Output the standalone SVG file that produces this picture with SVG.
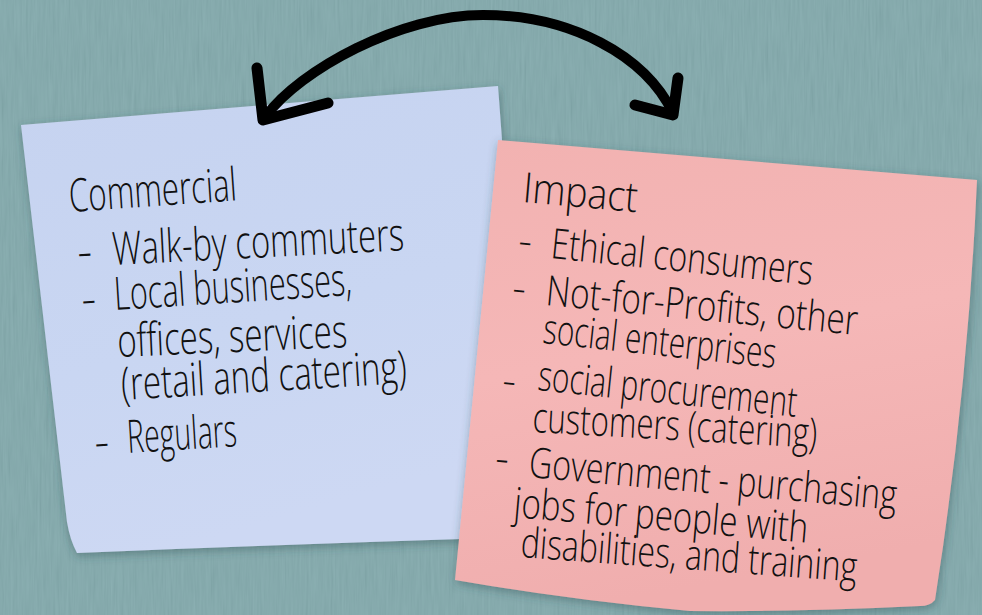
<svg xmlns="http://www.w3.org/2000/svg" width="982" height="615" viewBox="0 0 982 615">
  <defs>
    <filter id="grain" x="0" y="0" width="100%" height="100%">
      <feTurbulence type="fractalNoise" baseFrequency="0.45 0.025" numOctaves="3" seed="7"/>
      <feColorMatrix type="matrix" values="0.33 0.33 0.33 0 0  0.33 0.33 0.33 0 0  0.33 0.33 0.33 0 0  0 0 0 0 1"/>
    </filter>
    <filter id="shadow" x="-10%" y="-10%" width="120%" height="120%">
      <feDropShadow dx="1" dy="3" stdDeviation="5" flood-color="#2f4f52" flood-opacity="0.45"/>
    </filter>
    <linearGradient id="blueFill" x1="0" y1="0" x2="0.3" y2="1">
      <stop offset="0" stop-color="#c6d3f0"/>
      <stop offset="0.6" stop-color="#c9d6f2"/>
      <stop offset="1" stop-color="#cdd8f3"/>
    </linearGradient>
    <linearGradient id="pinkFill" x1="0" y1="0" x2="0.2" y2="1">
      <stop offset="0" stop-color="#f2b2b1"/>
      <stop offset="0.5" stop-color="#f5b7b7"/>
      <stop offset="1" stop-color="#f0aeae"/>
    </linearGradient>
    <style>
      .hand { font-family: "Open Sans", "Liberation Sans", sans-serif; font-weight: 300; fill: #111; }
      .blue { font-size: 46px; }
      .pink { font-size: 42px; }
      .arc { fill: none; stroke: #000; stroke-width: 10; stroke-linecap: round; }
      .head { fill: none; stroke: #000; stroke-width: 11; stroke-linecap: round; stroke-linejoin: round; }
    </style>
  </defs>

  <g id="background">
    <rect x="0" y="0" width="982" height="615" fill="#7ea8ab"/>
    <rect x="0" y="0" width="982" height="615" filter="url(#grain)" opacity="0.13"/>
  </g>

  <g id="note-commercial">
    <path d="M21,125 L498,86 L502,140 L492,538 Q300,544 77,553 Q70,540 67,522 Z" fill="url(#blueFill)" filter="url(#shadow)"/>
    <text class="hand blue" transform="rotate(-4 70 212)" x="70" y="212" textLength="168" lengthAdjust="spacingAndGlyphs">Commercial</text>
    <text class="hand blue" transform="rotate(-2.9 113 265)"><tspan x="78" y="266">-</tspan><tspan x="113" y="265" textLength="292" lengthAdjust="spacingAndGlyphs">Walk-by commuters</tspan></text>
    <text class="hand blue" transform="rotate(-3.6 115 310)"><tspan x="82" y="313">-</tspan><tspan x="115" y="310" textLength="238" lengthAdjust="spacingAndGlyphs">Local businesses,</tspan></text>
    <text class="hand blue" transform="rotate(-2.5 118 357)" x="118" y="357" textLength="230" lengthAdjust="spacingAndGlyphs">offices, services</text>
    <text class="hand blue" transform="rotate(-3.4 122 400)" x="122" y="400" textLength="286" lengthAdjust="spacingAndGlyphs">(retail and catering)</text>
    <text class="hand blue" transform="rotate(-3.5 128 453)"><tspan x="95" y="456">-</tspan><tspan x="128" y="453" textLength="110" lengthAdjust="spacingAndGlyphs">Regulars</tspan></text>
  </g>

  <g id="note-impact">
    <path d="M498,140 L977,180 Q968,390 935,600 Q930,606 920,606 Q800,612 690,611 Q570,600 455,580 Z" fill="url(#pinkFill)" filter="url(#shadow)"/>
    <text class="hand pink" transform="rotate(5 522 202)" x="522" y="202" textLength="115" lengthAdjust="spacingAndGlyphs">Impact</text>
    <text class="hand pink" transform="rotate(5.9 550 258)"><tspan x="517" y="258">-</tspan><tspan x="550" y="258" textLength="263" lengthAdjust="spacingAndGlyphs">Ethical consumers</tspan></text>
    <text class="hand pink" transform="rotate(5.5 545 305)"><tspan x="511" y="305">-</tspan><tspan x="545" y="305" textLength="313" lengthAdjust="spacingAndGlyphs">Not-for-Profits, other</tspan></text>
    <text class="hand pink" transform="rotate(6.1 542 343)" x="542" y="343" textLength="234" lengthAdjust="spacingAndGlyphs">social enterprises</text>
    <text class="hand pink" transform="rotate(5.9 537 390)"><tspan x="502" y="398">-</tspan><tspan x="537" y="390" textLength="260" lengthAdjust="spacingAndGlyphs">social procurement</tspan></text>
    <text class="hand pink" transform="rotate(3.2 532 432)" x="532" y="432" textLength="285" lengthAdjust="spacingAndGlyphs">customers (catering)</text>
    <text class="hand pink" transform="rotate(5.1 528 477)"><tspan x="494" y="475">-</tspan><tspan x="528" y="477" textLength="369" lengthAdjust="spacingAndGlyphs">Government - purchasing</tspan></text>
    <text class="hand pink" transform="rotate(5 513 517)" x="513" y="517" textLength="295" lengthAdjust="spacingAndGlyphs">jobs for people with</text>
    <text class="hand pink" transform="rotate(4.2 520 557)" x="520" y="557" textLength="337" lengthAdjust="spacingAndGlyphs">disabilities, and training</text>
  </g>

  <g id="connectors">
    <path class="arc" d="M266,116 C300,70 400,15 483,15 C570,15 645,55 673,113"/>
    <polyline class="head" points="257,68 263,120 328,103"/>
    <polyline class="head" points="678,78 673,115 635,105"/>
  </g>
</svg>
